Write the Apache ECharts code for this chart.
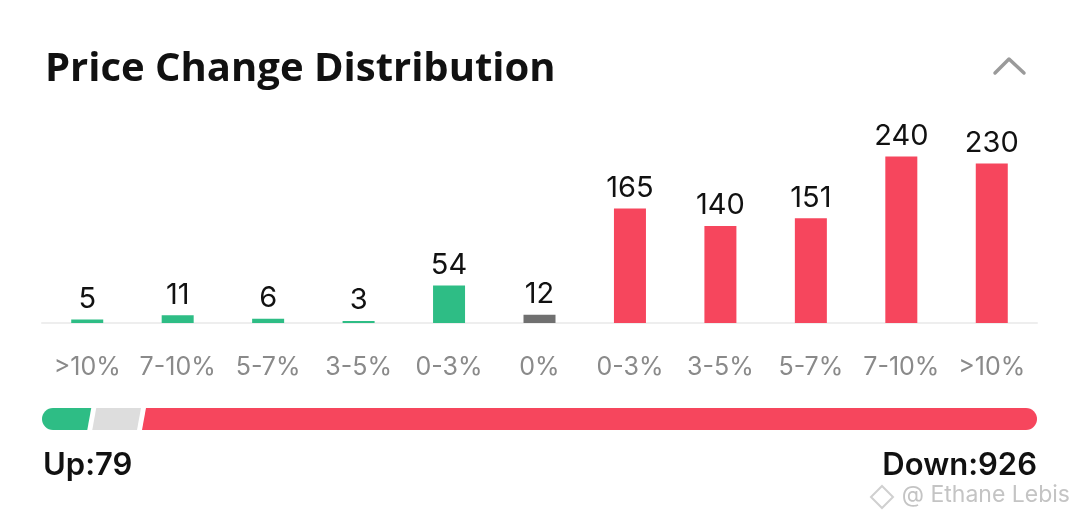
<!DOCTYPE html>
<html>
<head>
<meta charset="utf-8">
<script src="https://cdn.jsdelivr.net/npm/echarts@6/dist/echarts.min.js"></script>
<style>
html,body{margin:0;padding:0;background:#fff;}
#chart{width:1080px;height:526px;}
</style>
</head>
<body>
<div id="chart"></div>
<script>
// ---- data ----
const categories = ['>10%', '7-10%', '5-7%', '3-5%', '0-3%', '0%', '0-3%', '3-5%', '5-7%', '7-10%', '>10%'];
const values = [5, 11, 6, 3, 54, 12, 165, 140, 151, 240, 230];
const directions = ['up', 'up', 'up', 'up', 'up', 'flat', 'down', 'down', 'down', 'down', 'down'];
const progressShares = [5, 5, 90];          // visible segment shares of the up/flat/down bar (%)
const progressKinds = ['up', 'flat', 'down'];
const titleText = 'Price Change Distribution';
const watermark = '@ Ethane Lebis';

const dirColor = { up: '#2ebd85', flat: '#707070', down: '#f6465d' };
const progColor = { up: '#2ebd85', flat: '#dddddd', down: '#f6465d' };

const upTotal = values.filter((v, i) => directions[i] === 'up').reduce((a, b) => a + b, 0);
const downTotal = values.filter((v, i) => directions[i] === 'down').reduce((a, b) => a + b, 0);

const barData = values.map((v, i) => ({ value: v, itemStyle: { color: dirColor[directions[i]] } }));

let acc = 0;
const progData = progressShares.map((s, i) => { const d = [acc, acc + s, i]; acc += s; return d; });

const FONT = 'Inter, "Open Sans", sans-serif';
const TITLE_FONT = '"Open Sans", Inter, sans-serif';

const chart = echarts.init(document.getElementById('chart'), null, { renderer: 'canvas' });
chart.setOption({
  backgroundColor: '#ffffff',
  animation: false,
  title: {
    text: titleText,
    left: 40,
    top: 45,
    textStyle: { fontFamily: TITLE_FONT, fontSize: 40, fontWeight: 'bold', color: '#111111' }
  },
  grid: [
    { left: 42, right: 43, top: 115, bottom: 203 },
    { left: 42, right: 43, top: 408, height: 22 }
  ],
  xAxis: [
    {
      type: 'category', data: categories, gridIndex: 0,
      axisLine: { show: true, lineStyle: { color: '#eeeeee', width: 2 } },
      axisTick: { show: false },
      axisLabel: { color: '#8a8a8a', fontSize: 25, fontFamily: FONT, margin: 32, interval: 0 }
    },
    { type: 'value', gridIndex: 1, min: 0, max: 100, show: false }
  ],
  yAxis: [
    { type: 'value', gridIndex: 0, min: 0, max: 300, show: false, splitLine: { show: false } },
    { type: 'category', gridIndex: 1, data: ['bar'], show: false }
  ],
  series: [
    {
      type: 'bar', xAxisIndex: 0, yAxisIndex: 0,
      data: barData, barWidth: 32,
      label: {
        show: true, position: 'top', distance: 6,
        color: '#111111', fontSize: 29, fontFamily: FONT
      }
    },
    {
      type: 'custom', xAxisIndex: 1, yAxisIndex: 1,
      data: progData,
      renderItem: function (params, api) {
        const cs = params.coordSys;
        const top = cs.y, bottom = cs.y + cs.height, cy = cs.y + cs.height / 2, r = cs.height / 2;
        const x0 = api.coord([api.value(0), 0])[0];
        const x1 = api.coord([api.value(1), 0])[0];
        const idx = api.value(2);
        const n = progData.length;
        const g = 5, s = 2;
        const color = progColor[progressKinds[idx]];
        const children = [];
        let pts;
        if (idx === 0) {
          pts = [[x0 + r, top], [x1 - g / 2 + s, top], [x1 - g / 2 - s, bottom], [x0 + r, bottom]];
          children.push({ type: 'circle', shape: { cx: x0 + r, cy: cy, r: r }, style: { fill: color } });
        } else if (idx === n - 1) {
          pts = [[x0 + g / 2 + s, top], [x1 - r, top], [x1 - r, bottom], [x0 + g / 2 - s, bottom]];
          children.push({ type: 'circle', shape: { cx: x1 - r, cy: cy, r: r }, style: { fill: color } });
        } else {
          pts = [[x0 + g / 2 + s, top], [x1 - g / 2 + s, top], [x1 - g / 2 - s, bottom], [x0 + g / 2 - s, bottom]];
        }
        children.push({ type: 'polygon', shape: { points: pts }, style: { fill: color } });
        return { type: 'group', children: children };
      }
    }
  ],
  graphic: [
    {
      type: 'polyline', silent: true,
      shape: { points: [[995, 73], [1009, 59], [1024, 73]] },
      style: { stroke: '#9a9a9a', lineWidth: 3.5, lineCap: 'round', lineJoin: 'round', fill: null }
    },
    {
      type: 'text', left: 43, top: 450,
      style: { text: 'Up:' + upTotal, fontFamily: FONT, fontSize: 31, fontWeight: 600, fill: '#111111' }
    },
    {
      type: 'text', right: 43, top: 450,
      style: { text: 'Down:' + downTotal, fontFamily: FONT, fontSize: 31, fontWeight: 600, fill: '#111111' }
    },
    {
      type: 'polygon', silent: true,
      shape: { points: [[882, 486], [893, 497], [882, 508], [871, 497]] },
      style: { stroke: '#d0d0d0', lineWidth: 2, fill: null }
    },
    {
      type: 'text', right: 10, top: 484,
      style: { text: watermark, fontFamily: FONT, fontSize: 23, fill: '#c4c4c4' }
    }
  ]
});
</script>
</body>
</html>
